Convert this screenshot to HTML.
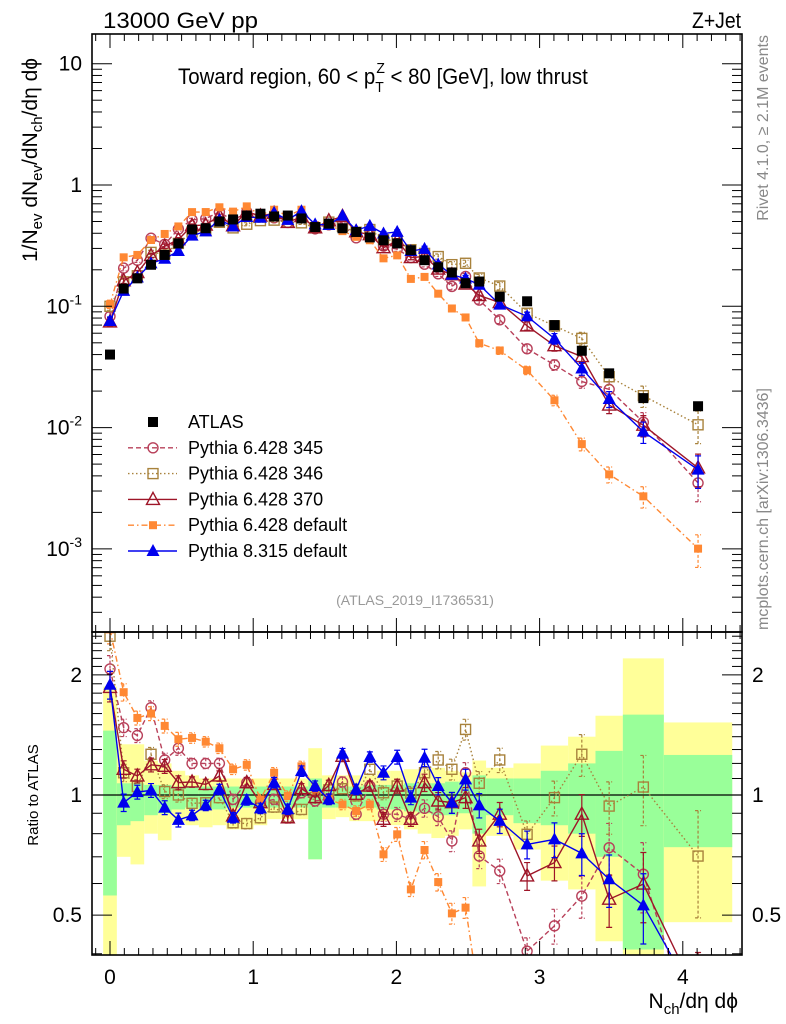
<!DOCTYPE html>
<html><head><meta charset="utf-8">
<style>
html,body{margin:0;padding:0;background:#fff;overflow:hidden;width:786px;height:1024px;}
svg{display:block;font-family:"Liberation Sans",sans-serif;}
</style></head>
<body>
<svg id="chart" width="786" height="1024" viewBox="0 0 786 1024" xmlns="http://www.w3.org/2000/svg">
<defs>
<clipPath id="clipMain"><rect x="92" y="34" width="650" height="598"/></clipPath>
<clipPath id="clipRatio"><rect x="92" y="632" width="650" height="323"/></clipPath>
</defs>
<g id="bands" clip-path="url(#clipRatio)"></g>
<g id="ratioMarks" clip-path="url(#clipRatio)"></g>
<g id="mainMarks" clip-path="url(#clipMain)"></g>
<g id="axes"></g>
<text x="103" y="28" font-size="22" textLength="155" lengthAdjust="spacingAndGlyphs">13000 GeV pp</text>
<text x="741" y="28" font-size="22" text-anchor="end" textLength="49" lengthAdjust="spacingAndGlyphs">Z+Jet</text>
<text x="178" y="84" font-size="22" transform="translate(178,0) scale(0.93,1) translate(-178,0)">Toward region, 60 &lt; p<tspan font-size="15" dy="8">T</tspan><tspan font-size="15" dx="-8" dy="-19">Z</tspan><tspan dy="11"> &lt; 80 [GeV], low thrust</tspan></text>
<text x="415" y="605" font-size="14" fill="#999" text-anchor="middle">(ATLAS_2019_I1736531)</text>
<text transform="translate(768,35) rotate(-90)" font-size="16" fill="#888" text-anchor="end">Rivet 4.1.0, ≥ 2.1M events</text>
<text transform="translate(768,630) rotate(-90)" font-size="16" fill="#888">mcplots.cern.ch [arXiv:1306.3436]</text>
<text transform="translate(37,160) rotate(-90)" font-size="21" text-anchor="middle">1/N<tspan font-size="15" dy="5">ev</tspan><tspan dy="-5"> dN</tspan><tspan font-size="15" dy="5">ev</tspan><tspan dy="-5">/dN</tspan><tspan font-size="15" dy="5">ch</tspan><tspan dy="-5">/dη dϕ</tspan></text>
<text transform="translate(38,795) rotate(-90)" font-size="15" text-anchor="middle">Ratio to ATLAS</text>
<text x="738" y="1008" font-size="21" text-anchor="end">N<tspan font-size="15" dy="6">ch</tspan><tspan dy="-6">/dη dϕ</tspan></text>
<g id="legend"></g>
</svg>
<script>
// ---- data ----
const binK = [0,1,2,3,4,5,6,7,8,9,10,11,12,13,14,15,16,17,18,19,20,21,22,23,24,25,26,27,28.5,30.5,32.5,34.5,36.5,39,43];
const binLoK = [-0.5,0.5,1.5,2.5,3.5,4.5,5.5,6.5,7.5,8.5,9.5,10.5,11.5,12.5,13.5,14.5,15.5,16.5,17.5,18.5,19.5,20.5,21.5,22.5,23.5,24.5,25.5,26.5,27.5,29.5,31.5,33.5,35.5,37.5,40.5];
const binHiK = [0.5,1.5,2.5,3.5,4.5,5.5,6.5,7.5,8.5,9.5,10.5,11.5,12.5,13.5,14.5,15.5,16.5,17.5,18.5,19.5,20.5,21.5,22.5,23.5,24.5,25.5,26.5,27.5,29.5,31.5,33.5,35.5,37.5,40.5,45.5];
const atlas = [0.040,0.14,0.17,0.22,0.265,0.33,0.43,0.44,0.50,0.52,0.56,0.58,0.55,0.56,0.53,0.45,0.48,0.44,0.41,0.37,0.35,0.33,0.29,0.24,0.21,0.19,0.155,0.16,0.12,0.11,0.07,0.043,0.028,0.0175,0.015];
const ratio345 = [2.07,1.475,1.41,1.655,1.224,1.31,1.2,1.2,1.2,0.975,1.074,0.957,0.975,0.877,1.013,0.966,0.979,1.078,0.895,1.053,0.895,0.895,0.869,0.926,0.882,0.767,1.137,0.703,0.645,0.406,0.47,0.558,0.738,0.633,0.233];
const ratio346 = [2.5,1.137,1.05,1.265,1.02,1.0,0.953,0.956,0.985,0.852,0.848,0.877,0.933,0.88,0.92,0.985,1.03,1.037,0.995,1.16,1.013,1.053,1.01,1.137,1.224,1.16,1.46,1.07,1.224,0.797,0.985,1.265,0.938,1.047,0.703];
const ratio370 = [1.86,1.16,1.116,1.19,1.18,1.074,1.078,1.063,1.116,0.886,1.074,0.957,1.063,0.877,1.037,0.985,1.057,1.25,1.004,1.053,0.869,1.053,0.869,1.074,0.966,0.957,0.985,0.767,0.895,0.627,0.677,0.895,0.548,0.598,0.31];
const ratioDef6 = [2.6,1.81,1.56,1.6,1.49,1.38,1.39,1.36,1.31,1.16,1.19,0.975,1.137,0.994,1.18,1.037,0.975,0.947,0.912,0.947,0.71,0.797,0.58,0.728,0.605,0.505,0.522,0.31,0.36,0.27,0.24,0.17,0.147,0.155,0.067];
const ratioPy8 = [1.89,0.957,1.017,1.027,0.93,0.866,0.889,0.942,1.033,0.877,0.972,0.926,1.074,0.921,1.148,1.053,0.975,1.27,1.033,1.245,1.137,1.245,0.985,1.24,1.053,0.957,1.094,0.942,0.861,0.752,0.774,0.714,0.615,0.529,0.3];
const mcRelErr = [0.08,0.05,0.04,0.04,0.04,0.04,0.03,0.03,0.03,0.03,0.03,0.03,0.03,0.03,0.03,0.03,0.03,0.03,0.03,0.03,0.04,0.04,0.04,0.05,0.05,0.06,0.06,0.07,0.07,0.08,0.1,0.12,0.15,0.2,0.3];
const yellowLo = [0.3,0.70,0.67,0.80,0.77,0.85,0.84,0.83,0.84,0.82,0.82,0.84,0.87,0.87,0.87,0.69,0.87,0.88,0.86,0.86,0.86,0.84,0.82,0.80,0.78,0.79,0.82,0.59,0.79,0.73,0.61,0.58,0.43,0.35,0.48];
const yellowHi = [1.87,1.34,1.34,1.22,1.2,1.15,1.12,1.1,1.1,1.1,1.1,1.1,1.1,1.1,1.1,1.31,1.12,1.12,1.12,1.12,1.15,1.15,1.16,1.16,1.17,1.15,1.14,1.22,1.17,1.2,1.33,1.40,1.58,2.2,1.52];
const greenLo = [0.56,0.84,0.86,0.89,0.9,0.92,0.93,0.92,0.92,0.93,0.93,0.93,0.93,0.93,0.93,0.69,0.93,0.93,0.93,0.93,0.92,0.92,0.91,0.9,0.89,0.89,0.9,0.8,0.89,0.85,0.84,0.8,0.7,0.41,0.74];
const greenHi = [1.45,1.07,1.07,1.06,1.06,1.05,1.05,1.05,1.05,1.05,1.05,1.05,1.05,1.05,1.05,1.1,1.05,1.05,1.05,1.06,1.06,1.06,1.07,1.07,1.07,1.08,1.08,1.12,1.1,1.1,1.15,1.2,1.29,1.59,1.26];
const mainTickLabels = ["10^-3","10^-2","10^-1","1","10"];
const ratioTickLabels = ["0.5","1","2"];
const xTickLabels = ["0","1","2","3","4"];

// ---- axes ----
const KSTEP = 0.0955;
const X0 = 110, XPU = 143.2;
function xs(v){ return X0 + v*XPU; }
function ym(v){ return 185 - 121.3*Math.log10(v); }
function yr(v){ return 795 - 399*Math.log10(v); }
const NS = "http://www.w3.org/2000/svg";
function mk(tag, attrs, parent){
  const e = document.createElementNS(NS, tag);
  for (const k in attrs) e.setAttribute(k, attrs[k]);
  parent.appendChild(e); return e;
}
const bandsG = document.getElementById('bands');
const ratioG = document.getElementById('ratioMarks');
const mainG = document.getElementById('mainMarks');
const axesG = document.getElementById('axes');
const legG = document.getElementById('legend');

for (let i=0;i<binK.length;i++){
  const x1 = xs(binLoK[i]*KSTEP), x2 = xs(binHiK[i]*KSTEP);
  const ry = mk('rect',{x:x1,y:yr(yellowHi[i]),width:x2-x1,height:yr(yellowLo[i])-yr(yellowHi[i]),fill:'#ffff99'},bandsG);
  
  
  const rg = mk('rect',{x:x1,y:yr(greenHi[i]),width:x2-x1,height:yr(greenLo[i])-yr(greenHi[i]),fill:'#99ff99'},bandsG);
  
  
}
const oneLine = mk('line',{x1:92,x2:742,y1:yr(1),y2:yr(1),stroke:'#000','stroke-width':1.2},bandsG);



function marker(g, type, color, x, y){
  let e;
  if (type==='sqf'){ e = mk('rect',{x:x-5,y:y-5,width:10,height:10,fill:color},g); }
  else if (type==='sqo'){ e = mk('rect',{x:x-5,y:y-5,width:10,height:10,fill:'none',stroke:color,'stroke-width':1.4},g); }
  else if (type==='circ'){ e = mk('circle',{cx:x,cy:y,r:5,fill:'none',stroke:color,'stroke-width':1.4},g); }
  else if (type==='trio'){ e = mk('path',{d:`M${x} ${y-7}L${x+6.5} ${y+5}L${x-6.5} ${y+5}Z`,fill:'none',stroke:color,'stroke-width':1.4},g); }
  else if (type==='trif'){ e = mk('path',{d:`M${x} ${y-7}L${x+6.5} ${y+5}L${x-6.5} ${y+5}Z`,fill:color},g); }
  else if (type==='sqs'){ e = mk('rect',{x:x-4,y:y-4,width:8,height:8,fill:color},g); }
  return e;
}
const series = [
  {name:'pythia-6428-345', label:'Pythia 6.428 345', r:ratio345, color:'#b8405a', dash:'5,3', m:'circ'},
  {name:'pythia-6428-346', label:'Pythia 6.428 346', r:ratio346, color:'#a8823c', dash:'1.5,2.5', m:'sqo'},
  {name:'pythia-6428-370', label:'Pythia 6.428 370', r:ratio370, color:'#9e1528', dash:'', m:'trio'},
  {name:'pythia-6428-default', label:'Pythia 6.428 default', r:ratioDef6, color:'#ff8833', dash:'6,3,1.5,3', m:'sqs'},
  {name:'pythia-8315-default', label:'Pythia 8.315 default', r:ratioPy8, color:'#0000ee', dash:'', m:'trif'}
];
function drawSeries(g, s, yf, vals){
  const pts = binK.map((k,i)=>xs(k*KSTEP)+','+yf(vals[i])).join(' ');
  const pl = mk('polyline',{points:pts,fill:'none',stroke:s.color,'stroke-width':1.4,'stroke-dasharray':s.dash},g);
  
  
  binK.forEach((k,i)=>{
    const x = xs(k*KSTEP), v = vals[i];
    const e1 = yf(v*(1+mcRelErr[i])), e2 = yf(v*(1-mcRelErr[i]));
    const eb = mk('path',{d:`M${x} ${e1}V${e2}M${x-3} ${e1}H${x+3}M${x-3} ${e2}H${x+3}`,stroke:s.color,'stroke-width':1.2,fill:'none','stroke-dasharray':s.dash?'3,2':''},g);
    
    
    const m = marker(g, s.m, s.color, x, yf(v));
    
    
  });
}
series.forEach(s=>{
  drawSeries(ratioG, s, yr, s.r);
  drawSeries(mainG, s, ym, s.r.map((r,i)=>r*atlas[i]));
});
binK.forEach((k,i)=>{
  const m = marker(mainG,'sqf','#000',xs(k*KSTEP),ym(atlas[i]));
  
  
});

function line(x1,y1,x2,y2,w){ return mk('line',{x1,y1,x2,y2,stroke:'#000','stroke-width':w||1},axesG); }
const f1 = mk('rect',{x:92,y:34,width:650,height:598,fill:'none',stroke:'#000','stroke-width':1.6},axesG);


const f2 = mk('rect',{x:92,y:632,width:650,height:323,fill:'none',stroke:'#000','stroke-width':1.6},axesG);


for (let t=-1;t<=44;t++){
  const v = t/10, x = xs(v);
  if (x<92||x>742) continue;
  const major = t%10===0;
  const L = major?14:7;
  [[34,1],[632,-1],[632,1],[955,-1]].forEach(([y,d])=>line(x,y,x,y+d*L,1));
}
xTickLabels.forEach((lab,i)=>{
  const t = mk('text',{x:xs(i),y:984,'font-size':21,'text-anchor':'middle'},axesG);
  t.textContent = lab;
  
  
});
for (let e=-4;e<=1;e++){
  for (let m=1;m<=9;m++){
    const v = m*Math.pow(10,e), y = ym(v);
    if (y<34||y>632) continue;
    const L = m===1?20:10;
    line(92,y,92+L,y,1); line(742,y,742-L,y,1);
  }
}
mainTickLabels.forEach((lab,i)=>{
  const e = i-3, y = ym(Math.pow(10,e));
  const t = mk('text',{x:82,y:y+7,'font-size':21,'text-anchor':'end'},axesG);
  
  
  if (lab.indexOf('^')>0){
    const p = lab.split('^');
    t.textContent = p[0];
    const s = mk('tspan',{'font-size':14,dy:-9},t); s.textContent = p[1];
  } else t.textContent = lab;
});
for (let v=0.4; v<=2.6; v+=0.1){
  const vv = Math.round(v*10)/10, y = yr(vv);
  if (y<632||y>955) continue;
  const major = (vv===0.5||vv===1||vv===2);
  const L = major?20:10;
  line(92,y,92+L,y,1); line(742,y,742-L,y,1);
}
ratioTickLabels.forEach(lab=>{
  const y = yr(parseFloat(lab));
  const a = mk('text',{x:82,y:y+7,'font-size':21,'text-anchor':'end'},axesG);
  a.textContent = lab;
  
  
  const b = mk('text',{x:752,y:y+7,'font-size':21},axesG);
  b.textContent = lab;
  
  
});
const legRows = [{label:'ATLAS',m:'sqf',color:'#000',dash:null}].concat(series);
legRows.forEach((s,i)=>{
  const y = 422 + i*25.8;
  const g = mk('g',{},legG);
  
  
  if (s.dash!==null) mk('line',{x1:128,x2:177,y1:y,y2:y,stroke:s.color,'stroke-width':1.4,'stroke-dasharray':s.dash},g);
  marker(g, s.m, s.color, 153, y);
  const t = mk('text',{x:188,y:y+6,'font-size':18},g);
  t.textContent = s.label;
});
</script>
</body></html>
